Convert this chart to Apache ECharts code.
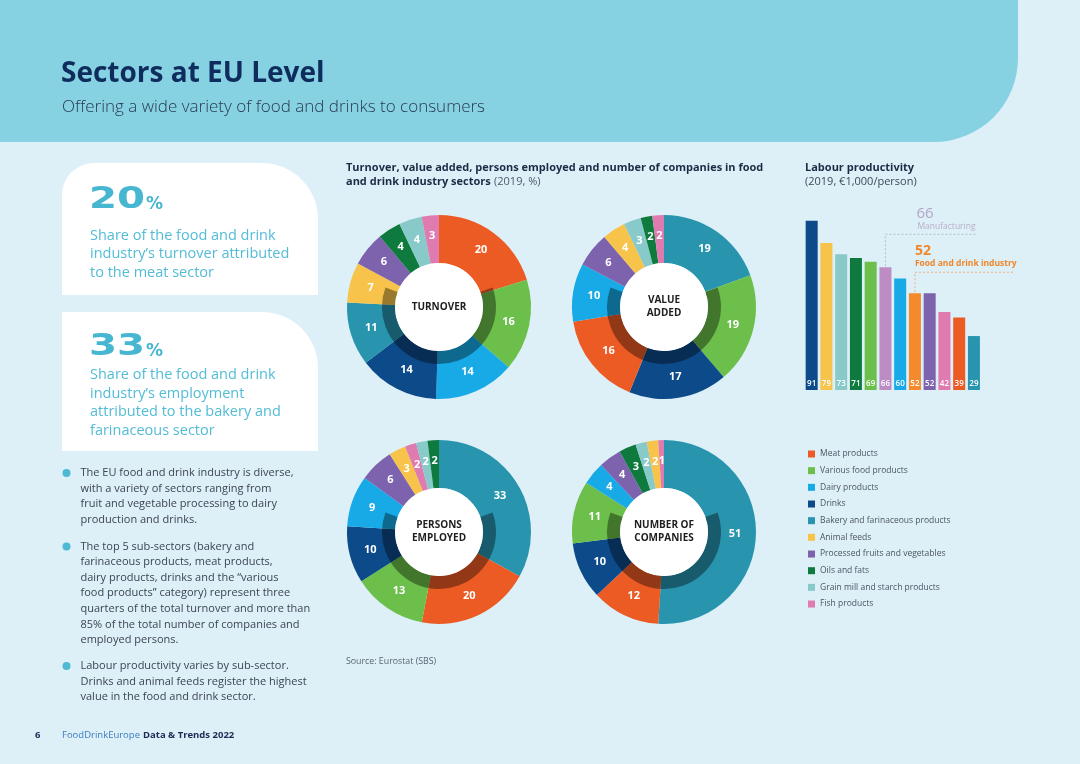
<!DOCTYPE html>
<html><head><meta charset="utf-8">
<script src="https://cdn.jsdelivr.net/npm/echarts@6/dist/echarts.min.js"></script>
<style>html,body{margin:0;padding:0;background:#DDEFF7;}#c{width:1080px;height:764px;}</style>
</head><body><div id="c"></div>
<script>
// ---------- DATA ----------
const sectors = ['Meat products','Various food products','Dairy products','Drinks','Bakery and farinaceous products','Animal feeds','Processed fruits and vegetables','Oils and fats','Grain mill and starch products','Fish products'];
const sectorColors = ['#EC5B24','#6CBF4A','#17AAE6','#0D4A89','#2894AE','#F7C34A','#7D62AE','#0E7A3D','#88CAC9','#E07BB0'];

const turnoverNames = ['Meat products','Various food products','Dairy products','Drinks','Bakery and farinaceous products','Animal feeds','Processed fruits and vegetables','Oils and fats','Grain mill and starch products','Fish products'];
const turnoverValues = [20,16,14,14,11,7,6,4,4,3];

const valueAddedNames = ['Bakery and farinaceous products','Various food products','Drinks','Meat products','Dairy products','Processed fruits and vegetables','Animal feeds','Grain mill and starch products','Oils and fats','Fish products'];
const valueAddedValues = [19,19,17,16,10,6,4,3,2,2];

const personsNames = ['Bakery and farinaceous products','Meat products','Various food products','Drinks','Dairy products','Processed fruits and vegetables','Animal feeds','Fish products','Grain mill and starch products','Oils and fats'];
const personsValues = [33,20,13,10,9,6,3,2,2,2];

const companiesNames = ['Bakery and farinaceous products','Meat products','Drinks','Various food products','Dairy products','Processed fruits and vegetables','Oils and fats','Grain mill and starch products','Animal feeds','Fish products'];
const companiesValues = [51,12,10,11,4,4,3,2,2,1];

const productivityCategories = ['Drinks','Animal feeds','Grain mill and starch products','Oils and fats','Various food products','Manufacturing','Dairy products','Food and drink industry','Processed fruits and vegetables','Fish products','Meat products','Bakery and farinaceous products'];
const productivityValues = [91,79,73,71,69,66,60,52,52,42,39,29];
const extraColors = {'Manufacturing':'#BD8CC5','Food and drink industry':'#F58A2C'};
const annotationCategories = ['Manufacturing','Food and drink industry'];

// ---------- BUILD ----------
const colorOf = {};
sectors.forEach((s,i)=>colorOf[s]=sectorColors[i]);
Object.assign(colorOf, extraColors);

const FONT = 'Open Sans';
const centers = [[439,307],[664,307],[439,532],[664,532]];
const centerLabels = ['TURNOVER','VALUE\nADDED','PERSONS\nEMPLOYED','NUMBER OF\nCOMPANIES'];
const pieSets = [[turnoverNames,turnoverValues],[valueAddedNames,valueAddedValues],[personsNames,personsValues],[companiesNames,companiesValues]];

function pie(names, values, center){
  return {
    type:'pie', radius:[44,92], center:center, startAngle:90, clockwise:true,
    avoidLabelOverlap:false, silent:true, minShowLabelAngle:0, z:2,
    label:{show:true, position:'inside', color:'#fff', fontWeight:'bold', fontSize:11, fontFamily:FONT, formatter:'{c}'},
    labelLine:{show:false},
    itemStyle:{borderWidth:0},
    emphasis:{disabled:true},
    data: names.map((n,i)=>({name:n, value:values[i], itemStyle:{color:colorOf[n]}}))
  };
}

function txt(text, x, y, font, fill, align, extra){
  return Object.assign({type:'text', z:5, silent:true, style:{text:text, x:x, y:y, font:font, fill:fill, textAlign:align||'left', textVerticalAlign:'middle', align:align||'left', verticalAlign:'middle'}}, extra||{});
}
function bigNum(text, x, y){
  return {type:'text', z:5, silent:true, x:x, y:y, scaleX:1.3, scaleY:1, originX:0, originY:0,
    style:{text:text, x:0, y:0, font:'bold 31px "DejaVu Sans"', fill:'#47B6D1', textAlign:'left', align:'left', textVerticalAlign:'middle', verticalAlign:'middle'}};
}

const els = [];
// header
els.push({type:'rect', z:0, silent:true, shape:{x:0,y:-20,width:1018,height:162,r:[0,0,84,0]}, style:{fill:'#86D2E3'}});
els.push(txt('Sectors at EU Level', 61, 74, 'bold 28px "'+FONT+'"', '#0E2C5C'));
els.push(txt('Offering a wide variety of food and drinks to consumers', 62, 107, '300 17px "'+FONT+'"', '#2A3A50'));
// cards
els.push({type:'rect', z:1, silent:true, shape:{x:62,y:163,width:256,height:132,r:[32,56,0,0]}, style:{fill:'#FFFFFF'}});
els.push({type:'rect', z:1, silent:true, shape:{x:62,y:312,width:256,height:139,r:[0,56,0,0]}, style:{fill:'#FFFFFF'}});
const cardBlue = '#47B6D1';
els.push(bigNum('20', 89, 200));
els.push(txt('%', 146, 205, 'bold 17px "DejaVu Sans"', cardBlue));
['Share of the food and drink','industry\u2019s turnover attributed','to the meat sector'].forEach((l,i)=>els.push(txt(l, 90, 236+i*18.3, '14.5px "'+FONT+'"', '#53BCD6')));
els.push(bigNum('33', 89, 347));
els.push(txt('%', 146, 352, 'bold 17px "DejaVu Sans"', cardBlue));
['Share of the food and drink','industry\u2019s employment','attributed to the bakery and','farinaceous sector'].forEach((l,i)=>els.push(txt(l, 90, 375+i*18.6, '14.5px "'+FONT+'"', '#53BCD6')));
// bullets
const paras = [
  [473, ['The EU food and drink industry is diverse,','with a variety of sectors ranging from','fruit and vegetable processing to dairy','production and drinks.']],
  [546.5, ['The top 5 sub-sectors (bakery and','farinaceous products, meat products,','dairy products, drinks and the \u201cvarious','food products\u201d category) represent three','quarters of the total turnover and more than','85% of the total number of companies and','employed persons.']],
  [666, ['Labour productivity varies by sub-sector.','Drinks and animal feeds register the highest','value in the food and drink sector.']]
];
paras.forEach(p=>{
  els.push({type:'circle', z:5, silent:true, shape:{cx:66.5, cy:p[0], r:4}, style:{fill:'#4FB9D4'}});
  p[1].forEach((l,i)=>els.push(txt(l, 80.5, p[0]+i*15.6, '11px "'+FONT+'"', '#3B4554')));
});
// footer
els.push(txt('6', 35, 735, 'bold 9.5px "'+FONT+'"', '#1B2B55'));
els.push({type:'text', z:5, silent:true, style:{text:'{a|FoodDrinkEurope}{b|Data & Trends 2022}', x:62, y:735, textVerticalAlign:'middle', verticalAlign:'middle', rich:{a:{font:'9.5px "'+FONT+'"', fill:'#3E7CC0', color:'#3E7CC0', padding:[0,3,0,0]}, b:{font:'bold 9.5px "'+FONT+'"', fill:'#1B2B55', color:'#1B2B55'}}}});
// chart titles
els.push(txt('Turnover, value added, persons employed and number of companies in food', 346, 168, 'bold 11px "'+FONT+'"', '#1D2A45'));
els.push({type:'text', z:5, silent:true, style:{text:'{b|and drink industry sectors} {r|(2019, %)}', x:346, y:182, textVerticalAlign:'middle', verticalAlign:'middle', rich:{b:{font:'bold 11px "'+FONT+'"', fill:'#1D2A45', color:'#1D2A45'}, r:{font:'11px "'+FONT+'"', fill:'#4F5A68', color:'#4F5A68'}}}});
els.push(txt('Labour productivity', 805, 168, 'bold 11px "'+FONT+'"', '#1D2A45'));
els.push(txt('(2019, \u20ac1,000/person)', 805, 182, '11px "'+FONT+'"', '#3F4A58'));
els.push(txt('Source: Eurostat (SBS)', 346, 661, '8.8px "'+FONT+'"', '#5A6672'));
// donut shadows, centers
centers.forEach((c,i)=>{
  els.push({type:'sector', z:10, silent:true, shape:{cx:c[0], cy:c[1], r0:44, r:57, startAngle:-20*Math.PI/180, endAngle:200*Math.PI/180, clockwise:true}, style:{fill:'rgba(0,0,0,0.38)'}});
  els.push({type:'circle', z:11, silent:true, shape:{cx:c[0], cy:c[1], r:44}, style:{fill:'#FFFFFF'}});
  els.push({type:'text', z:12, silent:true, style:{text:centerLabels[i], x:c[0], y:c[1], font:'bold 10px "'+FONT+'"', fill:'#1E1E1E', textAlign:'center', align:'center', textVerticalAlign:'middle', verticalAlign:'middle', lineHeight:13}});
});

const series = pieSets.map((s,i)=>pie(s[0], s[1], centers[i]));
series.push({
  type:'bar', barWidth:12, silent:true, z:3,
  label:{show:true, position:'insideBottom', distance:2, color:'#fff', fontSize:8, fontWeight:600, fontFamily:FONT},
  itemStyle:{borderWidth:0},
  emphasis:{disabled:true},
  data: productivityValues.map((v,i)=>({value:v, itemStyle:{color:colorOf[productivityCategories[i]]}}))
});
series.push({
  type:'custom', clip:false, silent:true, z:4,
  encode:{x:0, y:1},
  data: annotationCategories.map(c=>[c, productivityValues[productivityCategories.indexOf(c)]]),
  renderItem: function(params, api){
    const p = api.coord([api.value(0), api.value(1)]);
    const val = api.value(1);
    if(params.dataIndex === 0){
      const ey = p[1]-33;
      return {type:'group', children:[
        {type:'polyline', shape:{points:[[p[0],p[1]-1],[p[0],ey],[p[0]+90,ey]]}, style:{stroke:'#A9B5C1', lineWidth:0.8, lineDash:[2,2], fill:null}},
        {type:'text', style:{text:String(val), x:p[0]+31, y:ey-21, font:'15px "'+FONT+'"', fill:'#B3A5C6', textVerticalAlign:'middle', verticalAlign:'middle'}},
        {type:'text', style:{text:'Manufacturing', x:p[0]+32, y:ey-8, font:'8.5px "'+FONT+'"', fill:'#B9AFC9', textVerticalAlign:'middle', verticalAlign:'middle'}}
      ]};
    } else {
      const ey = p[1]-21;
      return {type:'group', children:[
        {type:'polyline', shape:{points:[[p[0],p[1]-1],[p[0],ey],[p[0]+100,ey]]}, style:{stroke:'#F3A060', lineWidth:0.8, lineDash:[2,2], fill:null}},
        {type:'text', style:{text:String(val), x:p[0], y:ey-21, font:'bold 14px "'+FONT+'"', fill:'#F0862A', textVerticalAlign:'middle', verticalAlign:'middle'}},
        {type:'text', style:{text:'Food and drink industry', x:p[0], y:ey-9, font:'bold 8.5px "'+FONT+'"', fill:'#F0862A', textVerticalAlign:'middle', verticalAlign:'middle'}}
      ]};
    }
  }
});

const chart = echarts.init(document.getElementById('c'), null, {renderer:'canvas'});
chart.setOption({
  backgroundColor:'#DDEFF7',
  animation:false,
  textStyle:{fontFamily:FONT},
  tooltip:{show:false},
  legend:{
    orient:'vertical', left:803, top:443, itemWidth:7, itemHeight:7, itemGap:4.67, icon:'rect',
    selectedMode:false, data:sectors,
    textStyle:{fontFamily:FONT, fontSize:8.5, color:'#4B5663', lineHeight:12}
  },
  grid:{left:804.3, top:204, width:177, height:186},
  xAxis:{type:'category', data:productivityCategories, show:false},
  yAxis:{type:'value', min:0, max:100, show:false},
  series: series,
  graphic:{elements: els}
});
</script></body></html>
